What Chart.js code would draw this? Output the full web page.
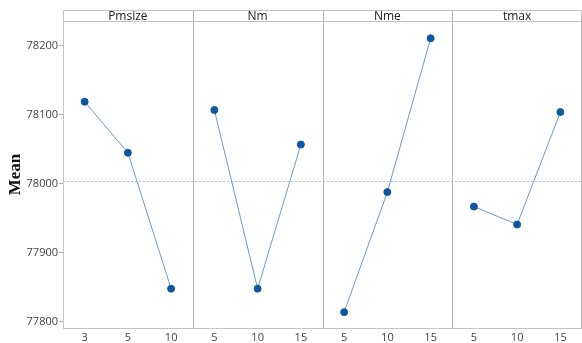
<!DOCTYPE html>
<html>
<head>
<meta charset="utf-8">
<script src="https://cdn.jsdelivr.net/npm/chart.js@4"></script>
<style>
  html, body { margin: 0; padding: 0; background: #fff; }
  #wrap { width: 582px; height: 343px; }
</style>
</head>
<body>
<div id="wrap"><canvas id="grafico" width="582" height="343"></canvas></div>
<script>
// factores y niveles
var factores = ['Pmsize', 'Nm', 'Nme', 'tmax'];
var nivelesPmsize = ['3', '5', '10'];
var nivelesNm = ['5', '10', '15'];
var nivelesNme = ['5', '10', '15'];
var nivelesTmax = ['5', '10', '15'];

// medias
var mediaPmsize = [78119, 78045, 77848];
var mediaNm = [78107, 77848, 78057];
var mediaNme = [77814, 77988, 78211];
var mediaTmax = [77967, 77941, 78104];

var mediaGeneral = 78004;
var ticksY = [77800, 77900, 78000, 78100, 78200];

var niveles = [nivelesPmsize, nivelesNm, nivelesNme, nivelesTmax];
var medias = [mediaPmsize, mediaNm, mediaNme, mediaTmax];

// cada panel ocupa 3 unidades del eje x
var etiquetasX = {};
var datasets = [];
for (var i = 0; i < factores.length; i++) {
  var puntos = [];
  for (var j = 0; j < 3; j++) {
    var x = i * 3 + j + 0.5;
    etiquetasX[x] = niveles[i][j];
    puntos.push({ x: x, y: medias[i][j] });
  }
  datasets.push({
    label: factores[i],
    data: puntos,
    borderColor: '#6a9cc4',
    borderWidth: 1,
    pointBackgroundColor: '#0d56a0',
    pointBorderColor: '#0d56a0',
    pointRadius: 3.5,
    tension: 0
  });
}

// marco, paneles, linea de media y cabeceras
var marco = {
  id: 'marco',
  beforeDatasetsDraw: function (chart) {
    var ctx = chart.ctx;
    var a = chart.chartArea;
    var sx = chart.scales.x;
    var sy = chart.scales.y;
    ctx.save();
    // linea de referencia
    var yr = Math.round(sy.getPixelForValue(mediaGeneral)) + 0.5;
    ctx.strokeStyle = '#bdbdbd';
    ctx.lineWidth = 1;
    ctx.setLineDash([2, 2]);
    ctx.beginPath();
    ctx.moveTo(a.left, yr);
    ctx.lineTo(a.right, yr);
    ctx.stroke();
    ctx.setLineDash([]);
    // marco
    ctx.strokeStyle = '#c4c4c4';
    ctx.strokeRect(a.left + 0.5, a.top + 0.5, a.right - a.left - 1, a.bottom - a.top);
    ctx.strokeStyle = '#b4b4b4';
    for (var k = 1; k < factores.length; k++) {
      var xp = Math.round(sx.getPixelForValue(k * 3)) + 0.5;
      ctx.beginPath();
      ctx.moveTo(xp, 10);
      ctx.lineTo(xp, a.bottom);
      ctx.stroke();
    }
    // cabeceras
    ctx.strokeStyle = '#c4c4c4';
    ctx.strokeRect(a.left + 0.5, 10.5, a.right - a.left - 1, a.top - 10);
    ctx.fillStyle = '#222';
    ctx.font = '12px "Open Sans", sans-serif';
    ctx.textAlign = 'center';
    ctx.textBaseline = 'middle';
    for (var f = 0; f < factores.length; f++) {
      var xc = sx.getPixelForValue(f * 3 + 1.5);
      ctx.fillText(factores[f], xc, (10 + a.top) / 2 + 1);
    }
    ctx.restore();
  }
};

var canvas = document.getElementById('grafico');
var grafico = new Chart(canvas, {
  type: 'line',
  data: { datasets: datasets },
  options: {
    responsive: false,
    animation: false,
    layout: { autoPadding: false, padding: { top: 21, right: 0, left: 0, bottom: 0 } },
    plugins: { legend: { display: false }, tooltip: { enabled: false } },
    scales: {
      x: {
        type: 'linear',
        min: 0,
        max: 12,
        afterBuildTicks: function (scale) {
          scale.ticks = Object.keys(etiquetasX).map(function (v) { return { value: parseFloat(v) }; });
        },
        afterFit: function (scale) {
          scale.height = 15;
          scale.paddingLeft = 0;
          scale.paddingRight = 0;
        },
        grid: { display: false, drawTicks: false },
        border: { display: false },
        ticks: {
          autoSkip: false,
          maxRotation: 0,
          padding: 3,
          color: '#444',
          font: { family: '"Open Sans", sans-serif', size: 11 },
          callback: function (v) { return etiquetasX[v]; }
        }
      },
      y: {
        min: 77791,
        max: 78236,
        afterBuildTicks: function (scale) {
          scale.ticks = ticksY.map(function (v) { return { value: v }; });
        },
        afterFit: function (scale) {
          scale.width = 63;
          scale.paddingTop = 0;
          scale.paddingBottom = 0;
        },
        grid: { drawOnChartArea: false, tickLength: 4, color: '#b0b0b0' },
        border: { display: false },
        ticks: {
          padding: 1,
          color: '#444',
          font: { family: '"Open Sans", sans-serif', size: 11 },
          callback: function (v) { return String(v); }
        },
        title: {
          display: true,
          text: 'Mean',
          color: '#111',
          padding: { top: 5, bottom: 2 },
          font: { family: '"Liberation Serif", "Times New Roman", serif', size: 17, weight: 'bold' }
        }
      }
    }
  },
  plugins: [marco]
});
</script>
</body>
</html>
